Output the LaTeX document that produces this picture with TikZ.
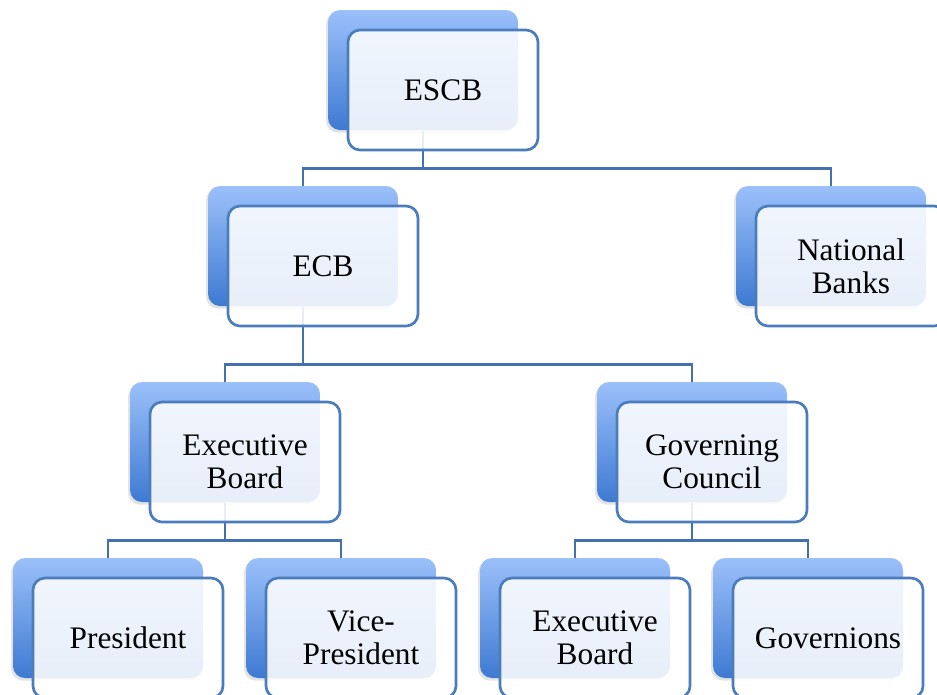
\documentclass[tikz,border=0pt]{standalone}
\usepackage{fontspec}
\setmainfont{Liberation Serif}
\usetikzlibrary{shadows}

\definecolor{backtop}{RGB}{155,192,250}
\definecolor{backbot}{RGB}{62,122,210}
\definecolor{frameblue}{RGB}{75,125,188}
\definecolor{linkblue}{RGB}{68,112,176}

\tikzset{every picture/.style={line width=0.75pt}}
\tikzset{
  backbox/.style={rounded corners=9pt, minimum width=142.5pt, minimum height=90pt,
    top color=backtop, bottom color=backbot, draw=none,
    drop shadow={opacity=0.22, shadow xshift=-1.5pt, shadow yshift=-2pt}},
  frontbox/.style={draw=frameblue, line width=2pt, rounded corners=9pt,
    fill=white, fill opacity=0.88, text opacity=1,
    minimum width=142.5pt, minimum height=90pt, inner sep=2pt, align=center,
    font=\fontsize{23.5}{25}\selectfont},
  link/.style={draw=linkblue, line width=1.8pt}
}

\begin{document}
\begin{tikzpicture}[x=0.75pt,y=0.75pt,yscale=-1,xscale=1]
\useasboundingbox (0,0) rectangle (937,694);
\clip (0,0) rectangle (937,694);

%Shape: back boxes
\node [backbox] (escbB) at (423,70) {};
\node [backbox] (ecbB) at (303,246) {};
\node [backbox] (natB) at (831,246) {};
\node [backbox] (exbB) at (225,442) {};
\node [backbox] (govcB) at (692,442) {};
\node [backbox] (presB) at (108,618) {};
\node [backbox] (viceB) at (341,618) {};
\node [backbox] (exbtwoB) at (575,618) {};
\node [backbox] (govB) at (808,618) {};

%Straight Lines: tree connectors
\path (escbB.south) ++(0,38) coordinate (bus1);
\path (ecbB.south) ++(0,58) coordinate (bus2);
\path (exbB.south) ++(0,38) coordinate (bus3);
\path (govcB.south) ++(0,38) coordinate (bus4);
\draw [link] (escbB.south) -- (bus1);
\draw [link] (ecbB.north) |- (bus1) -| (natB.north);
\draw [link] (ecbB.south) -- (bus2);
\draw [link] (exbB.north) |- (bus2) -| (govcB.north);
\draw [link] (exbB.south) -- (bus3);
\draw [link] (presB.north) |- (bus3) -| (viceB.north);
\draw [link] (govcB.south) -- (bus4);
\draw [link] (exbtwoB.north) |- (bus4) -| (govB.north);

% Text Node: front boxes
\node [frontbox] (escb) at (443,90) {ESCB};
\node [frontbox] (ecb) at (323,266) {ECB};
\node [frontbox] (nat) at (851,266) {National\\Banks};
\node [frontbox] (exb) at (245,462) {Executive\\Board};
\node [frontbox] (govc) at (712,462) {Governing\\Council};
\node [frontbox] (pres) at (128,638) {President};
\node [frontbox] (vice) at (361,638) {Vice-\\President};
\node [frontbox] (exbtwo) at (595,638) {Executive\\Board};
\node [frontbox] (gov) at (828,638) {Governions};

\end{tikzpicture}
\end{document}
